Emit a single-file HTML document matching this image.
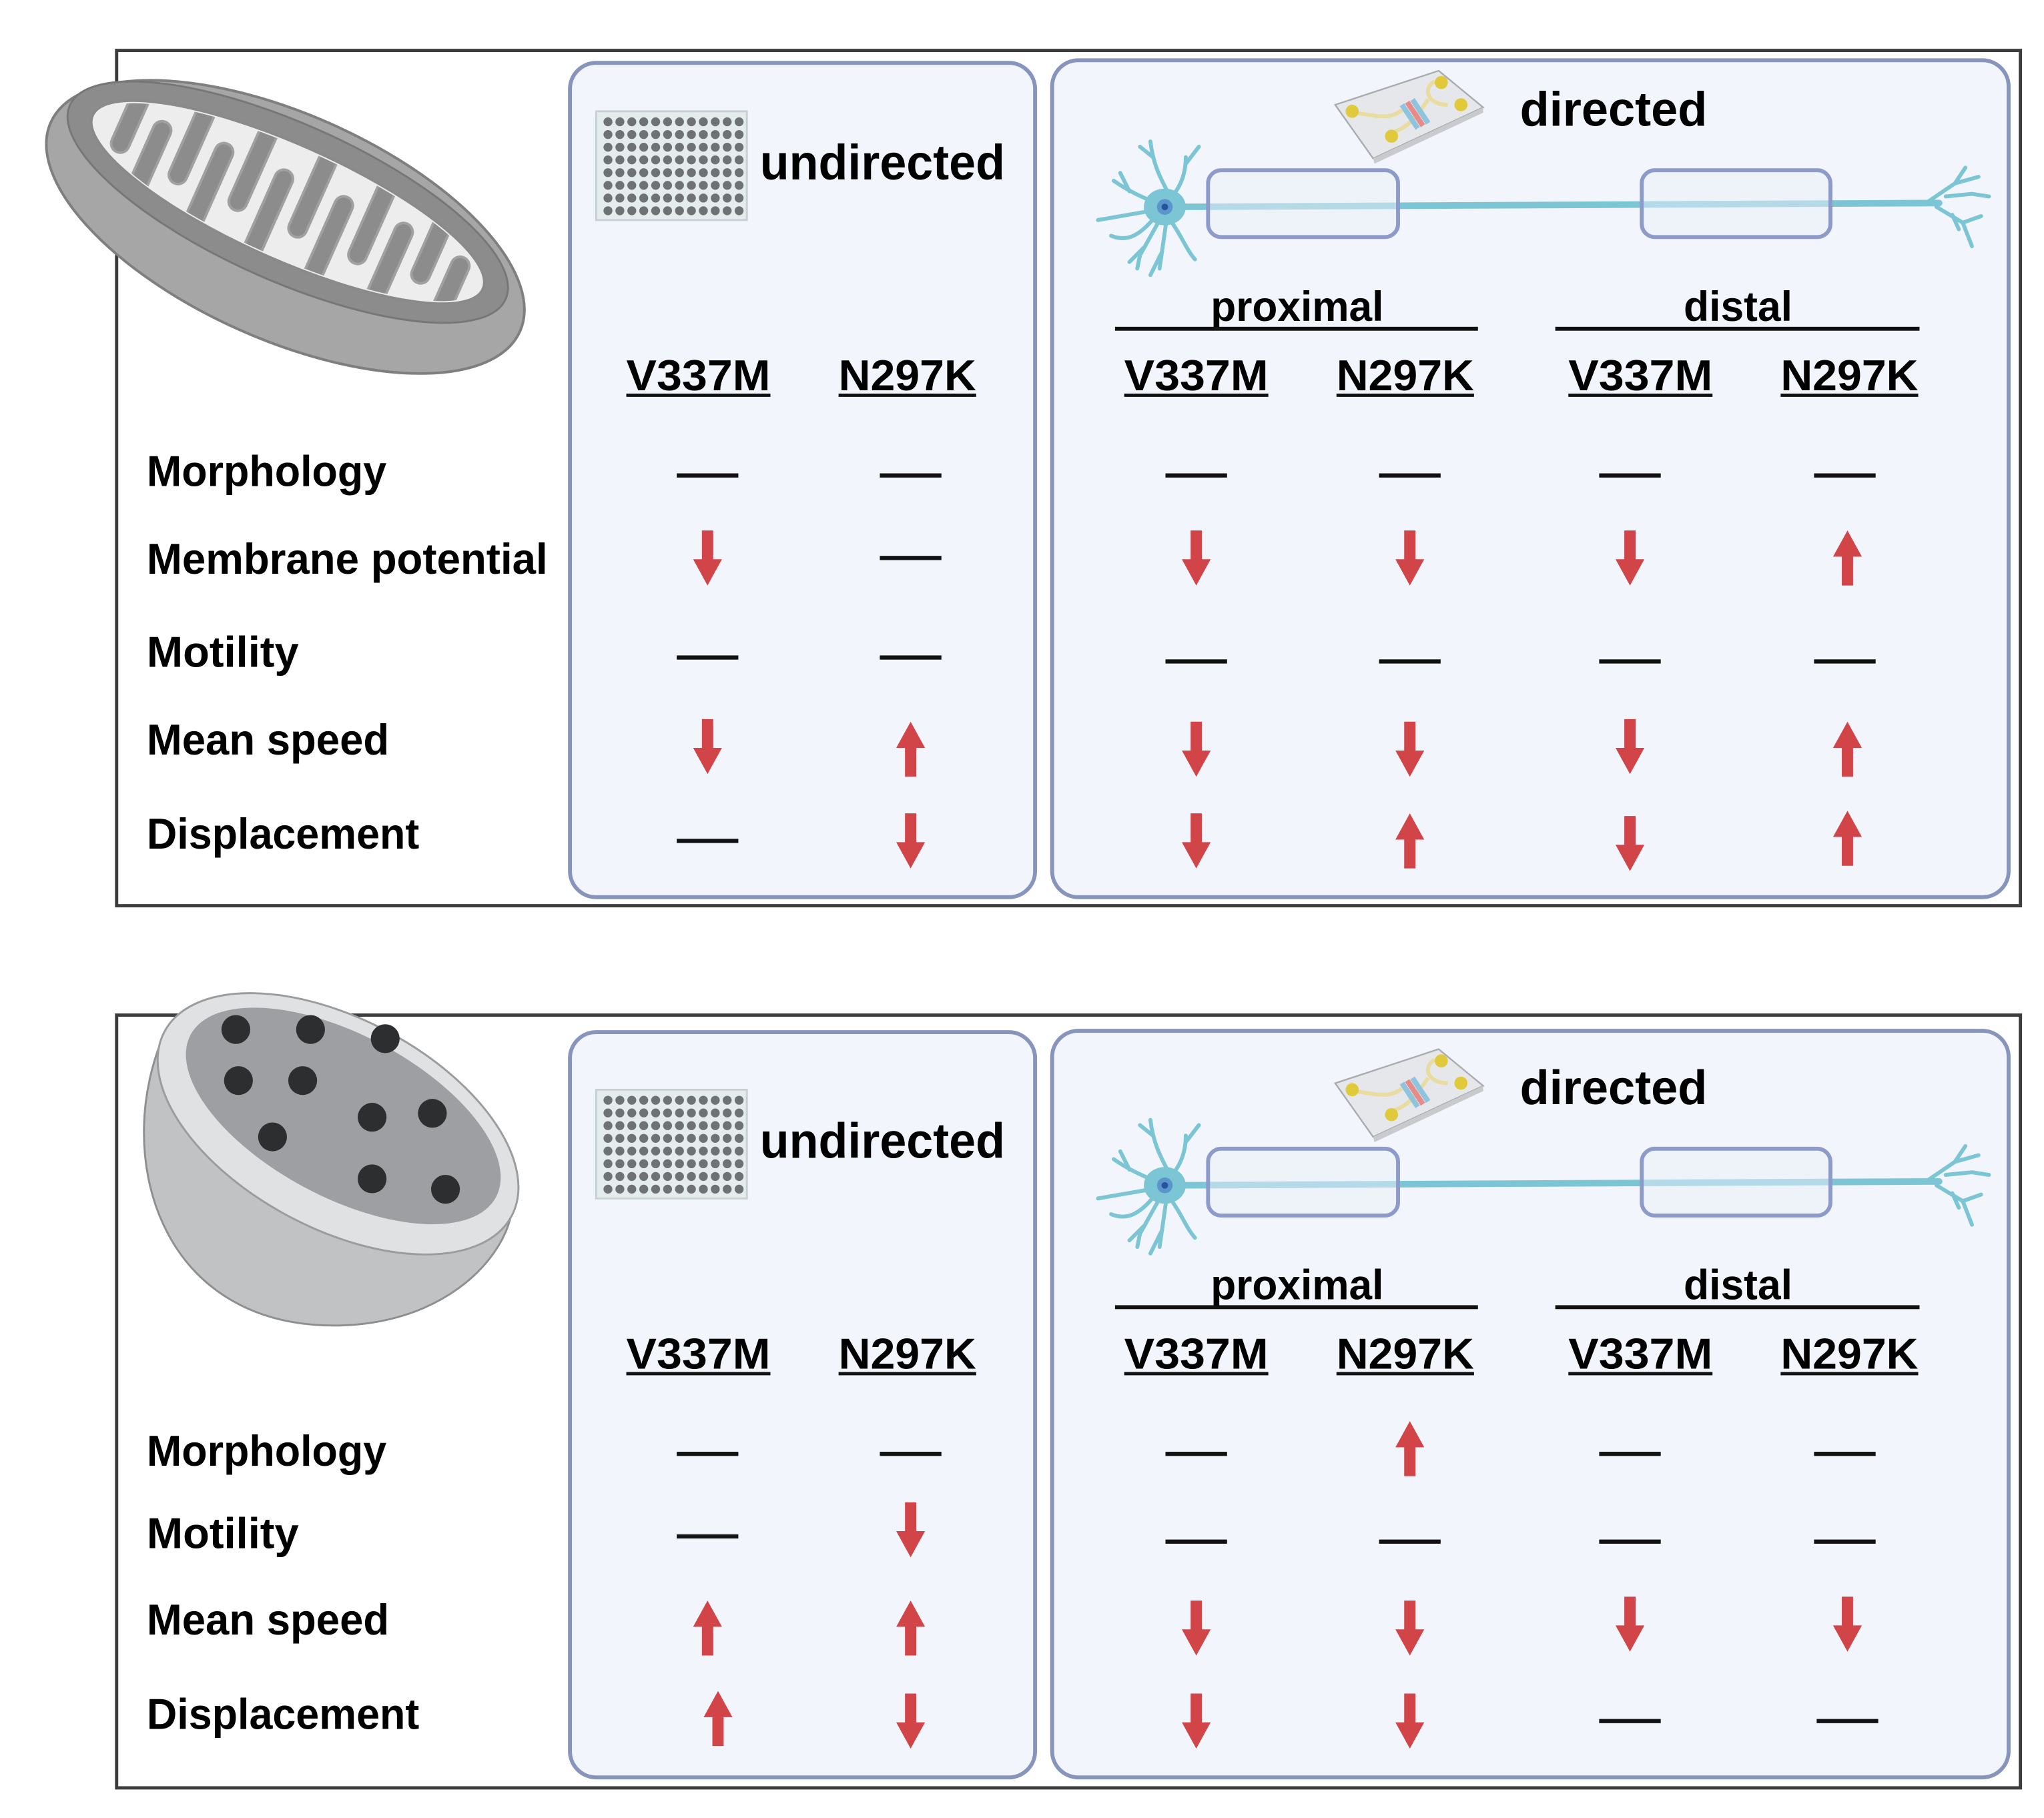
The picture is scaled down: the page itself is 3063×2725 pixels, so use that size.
<!DOCTYPE html>
<html><head><meta charset="utf-8"><style>
html,body{margin:0;padding:0;background:#fff;}
svg{display:block;}
text{font-family:"Liberation Sans",sans-serif;font-weight:bold;fill:#000;}
</style></head><body>
<svg width="3063" height="2725" viewBox="0 0 1560 1388" preserveAspectRatio="none" xmlns="http://www.w3.org/2000/svg">
<defs>
<g id="down"><path d="M-4.3,-21 h8.6 v22 h6.7 l-11,20 l-11,-20 h6.7 z" fill="#d14448"/></g>
<g id="up"><path d="M-4.3,21 h8.6 v-22 h6.7 l-11,-20 l-11,20 h6.7 z" fill="#d14448"/></g>
<g id="dash"><rect x="-23.5" y="-1.6" width="47" height="3.2" fill="#111"/></g>
<clipPath id="mitoClip"><ellipse cx="0" cy="0" rx="160" ry="42"/></clipPath>
<g id="plate">
 <rect x="455" y="85" width="115" height="83" fill="#e4ecee" stroke="#c8d0d4" stroke-width="1.5"/>
 <g fill="#6e7274">
 </g>
</g>
<g id="chip">
 <polygon points="1019,80 1098,54 1132,82 1048,121" fill="#e6e7ea" stroke="#a9abae" stroke-width="1.2"/>
 <polygon points="1048,121 1132,82 1132,86 1049,125" fill="#c9cacd"/>
 <path d="M1033,86 C1050,88 1060,92 1070,84 M1060,102 C1075,98 1080,90 1090,76 M1095,62 C1085,68 1090,80 1105,80" stroke="#e9dca0" stroke-width="3" fill="none"/>
 <path d="M1070,80 l12,18 M1078,76 l12,18" stroke="#8fc4df" stroke-width="4"/>
 <path d="M1074,78 l12,18" stroke="#e8898a" stroke-width="4"/>
 <circle cx="1032" cy="85" r="5" fill="#e0c93a"/>
 <circle cx="1062" cy="104" r="5" fill="#e0c93a"/>
 <circle cx="1100" cy="63" r="5" fill="#e0c93a"/>
 <circle cx="1115" cy="80" r="5" fill="#e0c93a"/>
</g>
<g id="neuron">
 <g stroke="#7cc5d4" fill="none" stroke-linecap="round">
  <path d="M888,158 L1480,155" stroke-width="5"/>
  <path d="M888,158 C900,145 905,135 905,120 M905,125 L915,112 M893,150 C885,135 880,125 878,108 M880,120 L870,112 M885,156 C870,150 860,145 850,138 M862,146 L855,132 M884,160 L838,168 M882,165 C870,180 860,185 848,180 M885,168 L870,195 L868,205 M874,188 L862,200 M890,170 L885,205 M887,192 L878,210 M893,168 C902,180 905,190 912,198" stroke-width="3"/>
  <path d="M1470,155 L1492,140 L1500,128 M1492,140 L1510,135 M1485,150 L1505,148 L1518,150 M1478,158 L1498,170 L1505,188 M1498,170 L1512,165 M1490,164 L1495,175" stroke-width="3"/>
 </g>
 <ellipse cx="889" cy="158" rx="16" ry="14" fill="#7cc5d4"/>
 <circle cx="889" cy="158" r="6" fill="#5b95cc"/>
 <circle cx="889" cy="158" r="2.5" fill="#24549a"/>
 <rect x="922" y="130" width="145" height="51" rx="10" fill="#eaf0f8" fill-opacity="0.5" stroke="#8d9bca" stroke-width="3"/>
 <rect x="1253" y="130" width="144" height="51" rx="10" fill="#eaf0f8" fill-opacity="0.5" stroke="#8d9bca" stroke-width="3"/>
</g>
</defs>

<!-- ============ TOP HALF ============ -->
<rect x="89" y="38.5" width="1453" height="653" fill="#fff" stroke="#3d3d3d" stroke-width="2.5"/>
<rect x="435" y="48" width="355" height="637" rx="20" fill="#f2f5fb" stroke="#8795bd" stroke-width="3"/>
<rect x="803" y="46" width="730" height="639" rx="20" fill="#f2f5fb" stroke="#8795bd" stroke-width="3"/>

<!-- mitochondrion -->
<g transform="translate(218,158) rotate(24)">
 <ellipse cx="6" cy="14" rx="196" ry="86" fill="#a6a6a6" stroke="#7f7f7f" stroke-width="2"/>
 <ellipse cx="0" cy="-4" rx="182" ry="60" fill="#8c8c8c" stroke="#777" stroke-width="1.5"/>
 <ellipse cx="0" cy="-4" rx="163" ry="44" fill="#ededed" stroke="#8a8a8a" stroke-width="2"/>
 <g clip-path="url(#mitoClip)" transform="translate(0,-4)" fill="#8c8c8c" stroke="#a0a0a0" stroke-width="2">
  <rect x="-142" y="-50" width="14" height="68" rx="7"/>
  <rect x="-92" y="-50" width="14" height="72" rx="7"/>
  <rect x="-42" y="-50" width="14" height="72" rx="7"/>
  <rect x="8" y="-50" width="14" height="72" rx="7"/>
  <rect x="58" y="-50" width="14" height="72" rx="7"/>
  <rect x="108" y="-50" width="14" height="66" rx="7"/>
  <rect x="-117" y="-18" width="14" height="70" rx="7"/>
  <rect x="-67" y="-22" width="14" height="74" rx="7"/>
  <rect x="-17" y="-22" width="14" height="74" rx="7"/>
  <rect x="33" y="-22" width="14" height="74" rx="7"/>
  <rect x="83" y="-22" width="14" height="74" rx="7"/>
  <rect x="133" y="-16" width="14" height="70" rx="7"/>
 </g>
</g>

<!-- plate icon top -->
<rect x="455" y="85" width="115" height="83" fill="#e4ecee" stroke="#c8d0d4" stroke-width="1.5"/>
<g fill="#6e7274" id="platedots"></g>
<text x="580" y="137" font-size="38" textLength="187" lengthAdjust="spacingAndGlyphs">undirected</text>
<use href="#chip"/>
<text x="1160" y="96" font-size="37" textLength="143" lengthAdjust="spacingAndGlyphs">directed</text>
<use href="#neuron"/>
<text x="924" y="245" font-size="32" textLength="132" lengthAdjust="spacingAndGlyphs">proximal</text>
<rect x="851" y="249.5" width="277" height="3" fill="#111"/>
<text x="1285" y="245" font-size="32" textLength="83" lengthAdjust="spacingAndGlyphs">distal</text>
<rect x="1187" y="249.5" width="278" height="3" fill="#111"/>

<g font-size="33">
<text x="478" y="298" textLength="110" lengthAdjust="spacingAndGlyphs">V337M</text>
<text x="640" y="298" textLength="105" lengthAdjust="spacingAndGlyphs">N297K</text>
<text x="858" y="298" textLength="110" lengthAdjust="spacingAndGlyphs">V337M</text>
<text x="1020" y="298" textLength="105" lengthAdjust="spacingAndGlyphs">N297K</text>
<text x="1197" y="298" textLength="110" lengthAdjust="spacingAndGlyphs">V337M</text>
<text x="1359" y="298" textLength="105" lengthAdjust="spacingAndGlyphs">N297K</text>
</g>
<g fill="#111">
<rect x="478" y="300.5" width="110" height="2.5"/><rect x="640" y="300.5" width="105" height="2.5"/>
<rect x="858" y="300.5" width="110" height="2.5"/><rect x="1020" y="300.5" width="105" height="2.5"/>
<rect x="1197" y="300.5" width="110" height="2.5"/><rect x="1359" y="300.5" width="105" height="2.5"/>
</g>

<g font-size="33">
<text x="112" y="371" textLength="183" lengthAdjust="spacingAndGlyphs">Morphology</text>
<text x="112" y="438" textLength="306" lengthAdjust="spacingAndGlyphs">Membrane potential</text>
<text x="112" y="509" textLength="116" lengthAdjust="spacingAndGlyphs">Motility</text>
<text x="112" y="576" textLength="185" lengthAdjust="spacingAndGlyphs">Mean speed</text>
<text x="112" y="648" textLength="208" lengthAdjust="spacingAndGlyphs">Displacement</text>
</g>

<!-- top symbols -->
<use href="#dash" x="540" y="363"/><use href="#dash" x="695" y="363"/>
<use href="#dash" x="913" y="363"/><use href="#dash" x="1076" y="363"/><use href="#dash" x="1244" y="363"/><use href="#dash" x="1408" y="363"/>

<use href="#down" x="540" y="426"/><use href="#dash" x="695" y="426"/>
<use href="#down" x="913" y="426"/><use href="#down" x="1076" y="426"/><use href="#down" x="1244" y="426"/><use href="#up" x="1410" y="426"/>

<use href="#dash" x="540" y="502"/><use href="#dash" x="695" y="502"/>
<use href="#dash" x="913" y="505"/><use href="#dash" x="1076" y="505"/><use href="#dash" x="1244" y="505"/><use href="#dash" x="1408" y="505"/>

<use href="#down" x="540" y="570"/><use href="#up" x="695" y="572"/>
<use href="#down" x="913" y="572"/><use href="#down" x="1076" y="572"/><use href="#down" x="1244" y="570"/><use href="#up" x="1410" y="572"/>

<use href="#dash" x="540" y="642"/><use href="#down" x="695" y="642"/>
<use href="#down" x="913" y="642"/><use href="#up" x="1076" y="642"/><use href="#down" x="1244" y="644"/><use href="#up" x="1410" y="640"/>

<!-- ============ BOTTOM HALF ============ -->
<rect x="89" y="775" width="1453" height="590" fill="#fff" stroke="#3d3d3d" stroke-width="2.5"/>
<rect x="435" y="788" width="355" height="569" rx="20" fill="#f2f5fb" stroke="#8795bd" stroke-width="3"/>
<rect x="803" y="787" width="730" height="570" rx="20" fill="#f2f5fb" stroke="#8795bd" stroke-width="3"/>

<!-- lysosome -->
<g>
 <path d="M126,788 C85,880 120,1012 255,1012 C335,1012 382,965 390,928 Z" fill="#c0c2c4" stroke="#8d8f91" stroke-width="1.5"/>
 <ellipse cx="258" cy="858" rx="150" ry="80" transform="rotate(28 258 858)" fill="#dfe1e3" stroke="#9a9c9e" stroke-width="1.5"/>
 <ellipse cx="262" cy="852" rx="132" ry="62" transform="rotate(28 262 852)" fill="#9d9fa2"/>
 <g fill="#2d2e30">
  <circle cx="180" cy="786" r="11"/><circle cx="237" cy="786" r="11"/><circle cx="294" cy="793" r="11"/>
  <circle cx="182" cy="825" r="11"/><circle cx="231" cy="825" r="11"/><circle cx="208" cy="868" r="11"/>
  <circle cx="284" cy="853" r="11"/><circle cx="330" cy="850" r="11"/><circle cx="284" cy="900" r="11"/><circle cx="340" cy="908" r="11"/>
 </g>
</g>

<rect x="455" y="832" width="115" height="83" fill="#e4ecee" stroke="#c8d0d4" stroke-width="1.5"/>
<g fill="#6e7274" id="platedots2"></g>
<text x="580" y="884" font-size="38" textLength="187" lengthAdjust="spacingAndGlyphs">undirected</text>
<g transform="translate(0,747)"><use href="#chip"/></g>
<text x="1160" y="843" font-size="37" textLength="143" lengthAdjust="spacingAndGlyphs">directed</text>
<g transform="translate(0,747)"><use href="#neuron"/></g>
<text x="924" y="992" font-size="32" textLength="132" lengthAdjust="spacingAndGlyphs">proximal</text>
<rect x="851" y="996.5" width="277" height="3" fill="#111"/>
<text x="1285" y="992" font-size="32" textLength="83" lengthAdjust="spacingAndGlyphs">distal</text>
<rect x="1187" y="996.5" width="278" height="3" fill="#111"/>

<g font-size="33">
<text x="478" y="1045" textLength="110" lengthAdjust="spacingAndGlyphs">V337M</text>
<text x="640" y="1045" textLength="105" lengthAdjust="spacingAndGlyphs">N297K</text>
<text x="858" y="1045" textLength="110" lengthAdjust="spacingAndGlyphs">V337M</text>
<text x="1020" y="1045" textLength="105" lengthAdjust="spacingAndGlyphs">N297K</text>
<text x="1197" y="1045" textLength="110" lengthAdjust="spacingAndGlyphs">V337M</text>
<text x="1359" y="1045" textLength="105" lengthAdjust="spacingAndGlyphs">N297K</text>
</g>
<g fill="#111">
<rect x="478" y="1047.5" width="110" height="2.5"/><rect x="640" y="1047.5" width="105" height="2.5"/>
<rect x="858" y="1047.5" width="110" height="2.5"/><rect x="1020" y="1047.5" width="105" height="2.5"/>
<rect x="1197" y="1047.5" width="110" height="2.5"/><rect x="1359" y="1047.5" width="105" height="2.5"/>
</g>

<g font-size="33">
<text x="112" y="1119" textLength="183" lengthAdjust="spacingAndGlyphs">Morphology</text>
<text x="112" y="1182" textLength="116" lengthAdjust="spacingAndGlyphs">Motility</text>
<text x="112" y="1248" textLength="185" lengthAdjust="spacingAndGlyphs">Mean speed</text>
<text x="112" y="1320" textLength="208" lengthAdjust="spacingAndGlyphs">Displacement</text>
</g>

<use href="#dash" x="540" y="1110"/><use href="#dash" x="695" y="1110"/>
<use href="#dash" x="913" y="1110"/><use href="#up" x="1076" y="1106"/><use href="#dash" x="1244" y="1110"/><use href="#dash" x="1408" y="1110"/>

<use href="#dash" x="540" y="1173"/><use href="#down" x="695" y="1168"/>
<use href="#dash" x="913" y="1177"/><use href="#dash" x="1076" y="1177"/><use href="#dash" x="1244" y="1177"/><use href="#dash" x="1408" y="1177"/>

<use href="#up" x="540" y="1243"/><use href="#up" x="695" y="1243"/>
<use href="#down" x="913" y="1243"/><use href="#down" x="1076" y="1243"/><use href="#down" x="1244" y="1240"/><use href="#down" x="1410" y="1240"/>

<use href="#up" x="548" y="1312"/><use href="#down" x="695" y="1314"/>
<use href="#down" x="913" y="1314"/><use href="#down" x="1076" y="1314"/><use href="#dash" x="1244" y="1314"/><use href="#dash" x="1410" y="1314"/>

<!-- plate dots (static) -->
<g fill="#6e7274">
<g id="row"><circle cx="464" cy="93" r="3.4"/><circle cx="473.1" cy="93" r="3.4"/><circle cx="482.2" cy="93" r="3.4"/><circle cx="491.3" cy="93" r="3.4"/><circle cx="500.4" cy="93" r="3.4"/><circle cx="509.5" cy="93" r="3.4"/><circle cx="518.6" cy="93" r="3.4"/><circle cx="527.7" cy="93" r="3.4"/><circle cx="536.8" cy="93" r="3.4"/><circle cx="545.9" cy="93" r="3.4"/><circle cx="555" cy="93" r="3.4"/><circle cx="564.1" cy="93" r="3.4"/></g>
<use href="#row" y="9.7"/><use href="#row" y="19.4"/><use href="#row" y="29.1"/><use href="#row" y="38.8"/><use href="#row" y="48.5"/><use href="#row" y="58.2"/><use href="#row" y="67.9"/>
<g transform="translate(0,747)">
<use href="#row"/><use href="#row" y="9.7"/><use href="#row" y="19.4"/><use href="#row" y="29.1"/><use href="#row" y="38.8"/><use href="#row" y="48.5"/><use href="#row" y="58.2"/><use href="#row" y="67.9"/>
</g>
</g>
</svg>
</body></html>
